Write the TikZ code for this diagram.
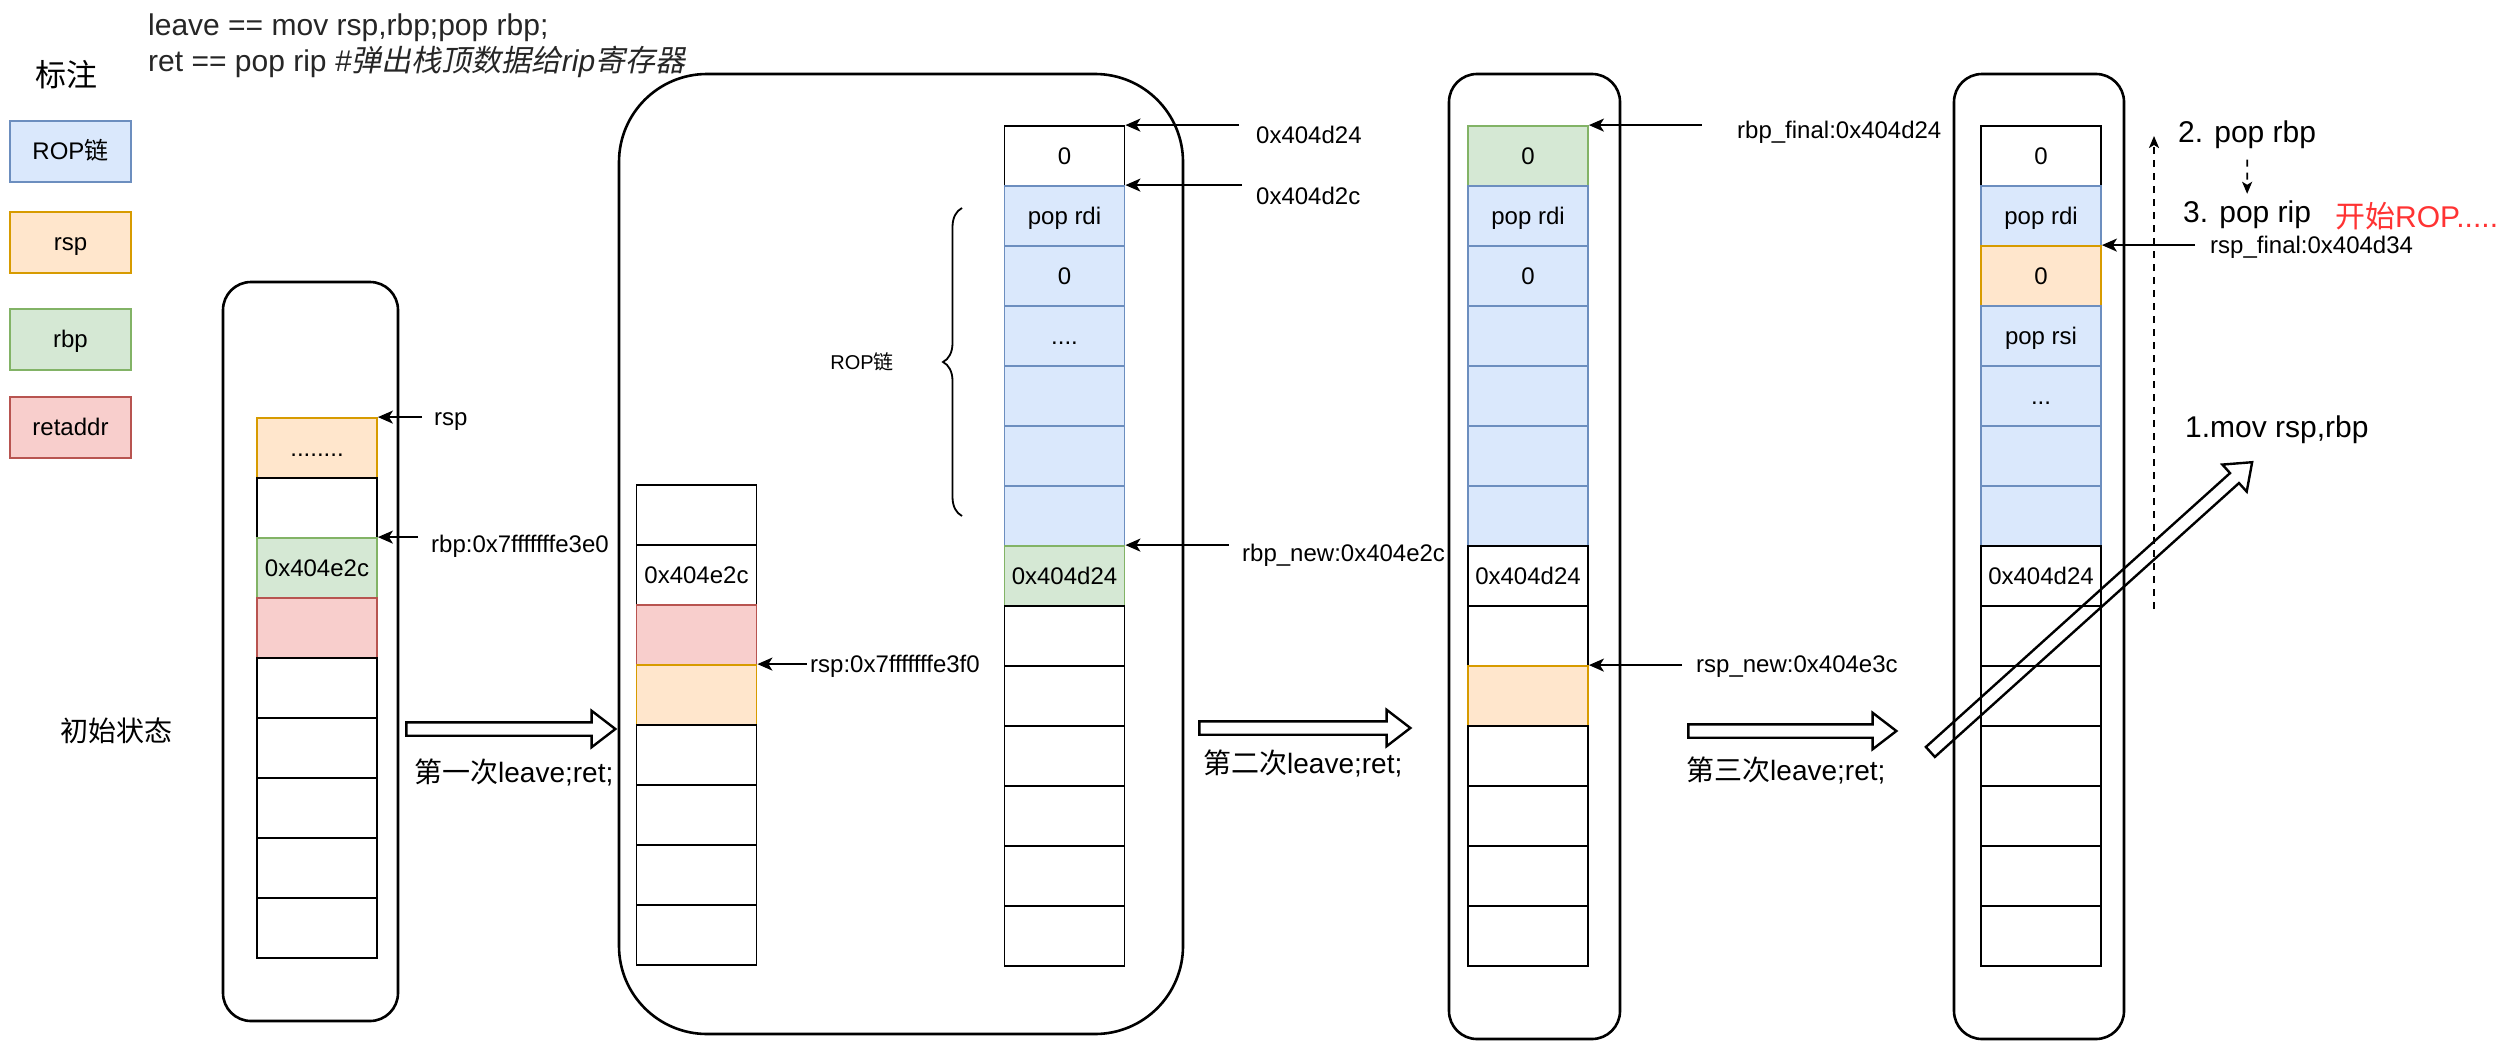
\documentclass[tikz,border=0pt]{standalone}
\usepackage{fontspec}
\setmainfont{Liberation Sans}
\newfontfamily\cjk{Noto Sans CJK SC}
\newfontfamily\cjkit[FakeSlant=0.2]{Noto Sans CJK SC}
\usepackage{xcolor}
\usepackage{tikz}
\usetikzlibrary{arrows.meta, positioning, decorations.pathreplacing, calc, shapes.arrows}
\definecolor{azul}{HTML}{DAE8FC}
\definecolor{azulb}{HTML}{6C8EBF}
\definecolor{naranja}{HTML}{FFE6CC}
\definecolor{naranjab}{HTML}{D79B00}
\definecolor{verde}{HTML}{D5E8D4}
\definecolor{verdeb}{HTML}{82B366}
\definecolor{rojo}{HTML}{F8CECC}
\definecolor{rojob}{HTML}{B85450}
\definecolor{rojotxt}{HTML}{FF3333}
\tikzset{
  every picture/.style={>=Stealth},
  cel/.style={draw=black, fill=white, line width=1.8pt, minimum width=120pt, minimum height=60pt,
              inner sep=0pt, font=\fontsize{24}{29}\selectfont, text height=21.7pt, text depth=5.1pt},
  rop/.style={cel, draw=azulb, fill=azul},
  rspc/.style={cel, draw=naranjab, fill=naranja},
  rbpc/.style={cel, draw=verdeb, fill=verde},
  retc/.style={cel, draw=rojob, fill=rojo},
  marco/.style={draw=black, line width=2.6pt, inner sep=0pt},
  etiq/.style={inner sep=0pt, anchor=west, font=\fontsize{24}{29}\selectfont},
  rotulo/.style={inner sep=0pt, anchor=west, font=\fontsize{28}{34}\selectfont},
  grande/.style={inner sep=0pt, anchor=west, font=\fontsize{30}{36}\selectfont},
  flecha/.style={-{Stealth[length=15pt, width=13pt, inset=4pt]}, line width=2pt},
  flechad/.style={-{Stealth[length=12pt, width=10pt, inset=3pt]}, line width=1.8pt, dash pattern=on 7pt off 6pt},
  flechota/.style={single arrow, draw=black, line width=2.4pt, minimum width=34pt,
              single arrow head extend=11.5pt, single arrow tip angle=75, inner sep=5.5pt},
  llave/.style={decorate, decoration={brace, amplitude=19pt}, line width=1.8pt},
}

\begin{document}
\begin{tikzpicture}[x=1pt, y=-1pt]
  \fill[white] (0,0) rectangle (2513,1041);

  % instrucciones y leyenda
  \node[grande, anchor=north west, align=left, text=black!85] (inst) at (148,13.5)
    {leave == mov rsp,rbp;pop rbp;\\
     ret == pop rip \textit{\#}{\cjkit 弹出栈顶数据给}\textit{rip}{\cjkit 寄存器}};
  \node[inner sep=0pt, font=\fontsize{31}{37}\selectfont] (ley) at (66,75) {\cjk 标注};
  \foreach \t/\s/\y [count=\i] in {{ROP{\cjk 链}}/rop/151.5, rsp/rspc/242.5, rbp/rbpc/339.5, retaddr/retc/427.5} {
    \node[\s, minimum width=121pt, minimum height=61pt, line width=2pt] (ley\i) at (70.5,\y) {\t};
  }
  \node[inner sep=0pt, font=\fontsize{28}{34}\selectfont] (inicial) at (116,731) {\cjk 初始状态};

  % marcos de las pilas
  \node[marco, rounded corners=28pt, minimum width=175pt, minimum height=739pt] (pila1) at (310.5,651.5) {};
  \node[marco, rounded corners=88pt, minimum width=564pt, minimum height=960pt] (pila2) at (901,554) {};
  \node[marco, rounded corners=28pt, minimum width=171pt, minimum height=965pt] (pila3) at (1534.5,556.5) {};
  \node[marco, rounded corners=28pt, minimum width=170pt, minimum height=965pt] (pila4) at (2039,556.5) {};

  % pila inicial
  \foreach \t/\s [count=\i] in {{........}/rspc, {}/cel, 0x404e2c/rbpc, {}/retc, {}/cel, {}/cel, {}/cel, {}/cel, {}/cel} {
    \node[\s] (s1c\i) at (317,388+60*\i) {\t};
  }
  \node[etiq] (lrsp1) at (434,422) {rsp};
  \node[etiq] (lrbp1) at (431,546) {rbp:0x7fffffffe3e0};
  \draw[flecha] ($(lrsp1.west |- s1c1.north east)+(-12,0)$) -- (s1c1.north east);
  \draw[flecha] ($(lrbp1.west |- s1c3.north east)+(-13,0)$) -- (s1c3.north east);

  % tras la primera leave;ret;
  \foreach \t/\s [count=\i] in {{}/cel, 0x404e2c/cel, {}/retc, {}/rspc, {}/cel, {}/cel, {}/cel, {}/cel} {
    \node[\s] (s2a\i) at (696.5,455+60*\i) {\t};
  }
  \foreach \t/\s [count=\i] in {0/cel, pop rdi/rop, 0/rop, {....}/rop, {}/rop, {}/rop, {}/rop, 0x404d24/rbpc,
                                {}/cel, {}/cel, {}/cel, {}/cel, {}/cel, {}/cel} {
    \node[\s] (s2b\i) at (1064.5,96+60*\i) {\t};
  }
  \node[etiq] (lrsp2) at (810,666) {rsp:0x7fffffffe3f0};
  \node[etiq] (ld24) at (1256,135) {0x404d24};
  \node[etiq] (ld2c) at (1256,195.5) {0x404d2c};
  \node[etiq] (lrbpn) at (1242,555) {rbp\_new:0x404e2c};
  \draw[flecha] ($(lrsp2.west |- s2a4.north east)+(-3.5,0)$) -- (s2a4.north east);
  \draw[flecha] ($(ld24.west |- s2b1.north east)+(-17,0)$) -- (s2b1.north east);
  \draw[flecha] ($(ld2c.west |- s2b2.north east)+(-14,0)$) -- (s2b2.north east);
  \draw[flecha] ($(lrbpn.west |- s2b8.north east)+(-13.4,0)$) -- (s2b8.north east);
  \draw[llave] (962,516) -- (962,208);
  \node[inner sep=0pt, font=\fontsize{20}{24}\selectfont] (lrop) at (862,362) {ROP{\cjk 链}};

  % tras la segunda leave;ret;
  \foreach \t/\s [count=\i] in {0/rbpc, pop rdi/rop, 0/rop, {}/rop, {}/rop, {}/rop, {}/rop, 0x404d24/cel,
                                {}/cel, {}/rspc, {}/cel, {}/cel, {}/cel, {}/cel} {
    \node[\s] (s3c\i) at (1528,96+60*\i) {\t};
  }
  \node[etiq] (lrbpf) at (1737,132.5) {rbp\_final:0x404d24};
  \node[etiq] (lrspn) at (1696,667) {rsp\_new:0x404e3c};
  \draw[flecha] ($(lrbpf.west |- s3c1.north east)+(-35.5,0)$) -- (s3c1.north east);
  \draw[flecha] ($(lrspn.west |- s3c10.north east)+(-14,0)$) -- (s3c10.north east);

  % tras la tercera leave;ret;
  \foreach \t/\s [count=\i] in {0/cel, pop rdi/rop, 0/rspc, pop rsi/rop, {...}/rop, {}/rop, {}/rop, 0x404d24/cel,
                                {}/cel, {}/cel, {}/cel, {}/cel, {}/cel, {}/cel} {
    \node[\s] (s4c\i) at (2041,96+60*\i) {\t};
  }
  \node[etiq] (lrspf) at (2210,247.5) {rsp\_final:0x404d34};
  \draw[flecha] ($(lrspf.west |- s4c3.north east)+(-15,0)$) -- (s4c3.north east);

  % pasos
  \node[flechota, fill=white, minimum height=209pt] (paso1f) at (506.5,729) {};
  \node[flechota, fill=white, minimum height=211pt] (paso2f) at (1300.5,728) {};
  \node[flechota, fill=white, minimum height=208pt] (paso3f) at (1788,731) {};
  \node[rotulo] (paso1) at (414,772) {{\cjk 第一次}leave;ret;};
  \node[rotulo] (paso2) at (1203,763) {{\cjk 第二次}leave;ret;};
  \node[rotulo] (paso3) at (1686,770) {{\cjk 第三次}leave;ret;};

  % detalle de leave;ret;
  \node[grande] (poprbp) at (2178,134.5) {2. pop rbp};
  \node[grande] (poprip) at (2183,215) {3. pop rip};
  \node[grande, text=rojotxt] (inirop) at (2335,216) {{\cjk 开始}ROP.....};
  \node[grande] (movrsp) at (2185,430) {1.mov rsp,rbp};
  \coordinate (dsbot) at (2154,609);
  \coordinate (dstop) at (2154,136);
  \draw[flechad] (dsbot) -- (dstop);
  \draw[flechad, shorten <=11pt, shorten >=7pt] (poprbp) -- (poprip);
  \node[flechota, minimum height=433pt, rotate=42] (movf) at (2088,610) {};
\end{tikzpicture}
\end{document}
